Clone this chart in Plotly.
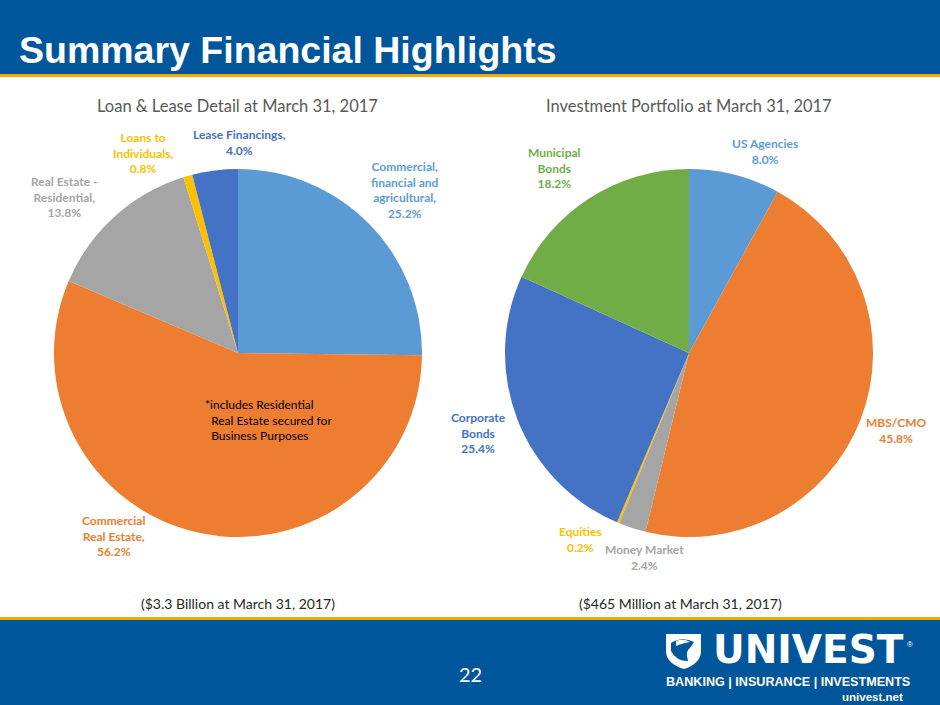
import plotly.graph_objects as go

W, H = 940, 705

# ---------------- data ----------------
loan_labels = ["Commercial, financial and agricultural", "Commercial Real Estate",
               "Real Estate - Residential", "Loans to Individuals", "Lease Financings"]
loan_values = [25.2, 56.2, 13.8, 0.8, 4.0]
loan_colors = ["#5B9BD5", "#ED7D31", "#A5A5A5", "#FFC000", "#4472C4"]

inv_labels = ["US Agencies", "MBS/CMO", "Money Market", "Equities", "Corporate Bonds", "Municipal Bonds"]
inv_values = [8.0, 45.8, 2.4, 0.2, 25.4, 18.2]
inv_colors = ["#5B9BD5", "#ED7D31", "#A5A5A5", "#FFC000", "#4472C4", "#70AD47"]

BLUE = "#00569A"
GOLD = "#F2A900"
LABEL_FONT = "Lato"


def px(x):
    return x / W


def py(y):
    return 1 - y / H


fig = go.Figure()

fig.add_trace(go.Pie(
    labels=loan_labels, values=loan_values, sort=False, direction="clockwise", rotation=0,
    marker=dict(colors=loan_colors, line=dict(width=0)), textinfo="none", hoverinfo="label+percent",
    domain=dict(x=[px(54), px(422)], y=[py(537), py(169)]), showlegend=False,
))
fig.add_trace(go.Pie(
    labels=inv_labels, values=inv_values, sort=False, direction="clockwise", rotation=0,
    marker=dict(colors=inv_colors, line=dict(width=0)), textinfo="none", hoverinfo="label+percent",
    domain=dict(x=[px(505), px(873)], y=[py(537), py(169)]), showlegend=False,
))

shapes = [
    # header band + gold line
    dict(type="rect", xref="paper", yref="paper", x0=0, x1=1, y0=py(74), y1=1,
         fillcolor=BLUE, line=dict(width=0), layer="below"),
    dict(type="rect", xref="paper", yref="paper", x0=0, x1=1, y0=py(77), y1=py(74),
         fillcolor=GOLD, line=dict(width=0), layer="below"),
    # footer gold line + band
    dict(type="rect", xref="paper", yref="paper", x0=0, x1=1, y0=py(620), y1=py(617),
         fillcolor=GOLD, line=dict(width=0), layer="below"),
    dict(type="rect", xref="paper", yref="paper", x0=0, x1=1, y0=0, y1=py(620),
         fillcolor=BLUE, line=dict(width=0), layer="below"),
]


# shield of logo (white)
def P(x, y):
    return f"{px(x):.5f},{py(y):.5f}"


shield = ("M " + P(666, 634) + " L " + P(701, 634) + " L " + P(701, 652) +
          " Q " + P(700, 664) + " " + P(684, 669) + " Q " + P(667, 664) + " " + P(666, 652) + " Z")
shapes.append(dict(type="path", xref="paper", yref="paper", path=shield,
                   fillcolor="white", line=dict(width=0)))
# eagle head hint inside shield
eagle = ("M " + P(671, 643) + " Q " + P(682, 636) + " " + P(694, 642) + " L " + P(690, 648) +
         " Q " + P(685, 651) + " " + P(688, 661) + " Q " + P(676, 661) + " " + P(671, 651) + " Z")
shapes.append(dict(type="path", xref="paper", yref="paper", path=eagle,
                   fillcolor=BLUE, line=dict(width=0)))
shapes.append(dict(type="path", xref="paper", yref="paper",
                   path="M " + P(676, 641) + " Q " + P(684, 638) + " " + P(690, 642) + " Q " + P(683, 643) + " " + P(676, 646) + " Z",
                   fillcolor="white", line=dict(width=0)))

ann = []


def A(text, x, y, color, size=12, bold=True, family=LABEL_FONT, align="center", xanchor="center"):
    t = f"<b>{text}</b>" if bold else text
    ann.append(dict(text=t, x=px(x), y=py(y), xref="paper", yref="paper", showarrow=False,
                    xanchor=xanchor, yanchor="middle", align=align,
                    font=dict(family=family, size=size, color=color)))


# title
A("Summary Financial Highlights", 17, 50, "white", size=37.5, family="Liberation Sans", xanchor="left")

# pie titles
A("Loan &amp; Lease Detail at March 31, 2017", 238, 106, "#595959", size=16.5, bold=False)
A("Investment Portfolio at March 31, 2017", 689, 106, "#595959", size=16.5, bold=False)

# loan labels
A("Commercial,<br>financial and<br>agricultural,<br>25.2%", 405, 190, loan_colors[0])
A("Commercial<br>Real Estate,<br>56.2%", 113, 536, loan_colors[1])
A("Real Estate -<br>Residential,<br>13.8%", 64, 197, loan_colors[2])
A("Loans to<br>Individuals,<br>0.8%", 143, 153, "#FFC000")
A("Lease Financings,<br>4.0%", 239, 142, loan_colors[4])
A("*includes Residential<br>  Real Estate secured for<br>  Business Purposes", 203, 420, "#000000",
  size=12, bold=False, align="left", xanchor="left")

# investment labels
A("US Agencies<br>8.0%", 765, 152, inv_colors[0])
A("MBS/CMO<br>45.8%", 896, 430, inv_colors[1])
A("Money Market<br>2.4%", 644, 557, inv_colors[2])
A("Equities<br>0.2%", 580, 539, "#FFC000")
A("Corporate<br>Bonds<br>25.4%", 478, 433, inv_colors[4])
A("Municipal<br>Bonds<br>18.2%", 554, 168, inv_colors[5])

# sub captions
A("($3.3 Billion at March 31, 2017)", 238, 603, "#262626", size=14, bold=False)
A("($465 Million at March 31, 2017)", 680, 603, "#262626", size=14, bold=False)

# footer
A("22", 470, 674, "white", size=20, bold=False)
A("UNIVEST", 808, 649, "white", size=39, family="DejaVu Sans")
A("®", 910, 644, "white", size=8, family="Liberation Sans", bold=False)
A("BANKING | INSURANCE | INVESTMENTS", 788, 682, "white", size=12.6, family="Liberation Sans")
A("univest.net", 905, 697, "white", size=11.5, family="Liberation Sans", xanchor="right")

fig.update_layout(
    width=W, height=H, margin=dict(l=0, r=0, t=0, b=0),
    paper_bgcolor="white", plot_bgcolor="white",
    shapes=shapes, annotations=ann, showlegend=False,
)

fig.write_html("out.html", config={"displayModeBar": False},
               post_script="document.body.style.margin='0';document.body.style.padding='0';")
